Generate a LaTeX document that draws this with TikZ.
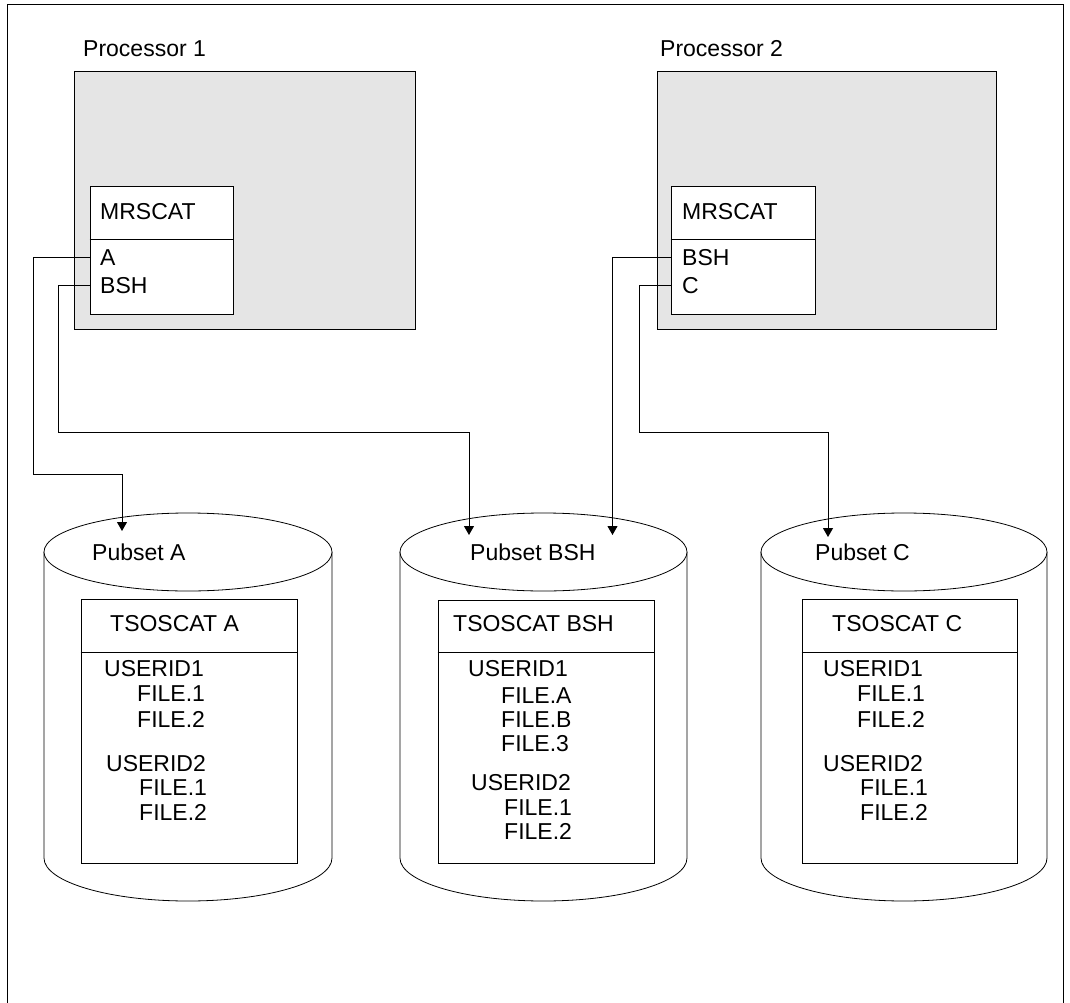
\documentclass[tikz,border=0pt]{standalone}
\usepackage{fontspec}
\setmainfont{Liberation Sans}
\usepackage{xcolor}
\definecolor{procgray}{HTML}{E5E5E5}
\usetikzlibrary{arrows.meta}
\tikzset{
  % --- TEXT ---
  txt/.style={
    anchor=west,
    inner sep=0pt,
    font=\fontsize{23}{27}\selectfont,
    text height=16.5pt,
    text depth=0pt
  },
  % --- BOXES ---
  procbox/.style={
    draw,
    fill=procgray,
    line width=1pt,
    inner sep=0pt
  },
  catbox/.style={
    draw,
    fill=white,
    line width=1pt,
    inner sep=0pt
  },
  divider/.style={
    line width=1pt
  },
  disk/.style={
    draw,
    fill=white,
    line width=0.8pt
  },
  frame/.style={
    draw,
    line width=1pt
  },
  % --- ARROWS ---
  link/.style={
    draw,
    line width=1pt,
    -{Triangle[length=9pt,width=10pt]}
  },
}
\begin{document}
\begin{tikzpicture}[x=1pt, y=-1pt]
  \useasboundingbox (0,0) rectangle (1070,1003);
  \draw[frame] (7,1004) -- (7,5) -- (1063,5) -- (1063,1004);
  % --- processor 1
  \node[txt] (p1label) at (83,48) {Processor 1};
  \node[procbox, minimum width=341pt, minimum height=257pt] (proc1) at (244.5,200.5) {};
  \node[catbox, minimum width=143pt, minimum height=127pt] (mrs1) at (161.5,250.5) {};
  \draw[divider] (mrs1.west |- 0,239) -- (mrs1.east |- 0,239);
  \node[txt] (mrs1title) at (100,211) {MRSCAT};
  \node[txt] (mrs1a) at (100,257) {A};
  \node[txt] (mrs1bsh) at (100,285) {BSH};
  % --- processor 2
  \node[txt] (p2label) at (660,48) {Processor 2};
  \node[procbox, minimum width=339pt, minimum height=257pt] (proc2) at (826.5,200.5) {};
  \node[catbox, minimum width=144pt, minimum height=127pt] (mrs2) at (743,250.5) {};
  \draw[divider] (mrs2.west |- 0,239) -- (mrs2.east |- 0,239);
  \node[txt] (mrs2title) at (682,211) {MRSCAT};
  \node[txt] (mrs2bsh) at (682,257) {BSH};
  \node[txt] (mrs2c) at (682,285) {C};
  % --- pubset A
  \draw[disk] (44,552) -- (44,858) arc[start angle=180, end angle=360, x radius=144pt, y radius=43pt] -- (332,552);
  \draw[disk] (188,552) ellipse[x radius=144pt, y radius=39pt];
  \node[txt] (pubA) at (92,552) {Pubset A};
  \node[catbox, minimum width=216pt, minimum height=264pt] (catA) at (189,731) {};
  \draw[divider] (catA.west |- 0,652) -- (catA.east |- 0,652);
  \node[txt] (catAtitle) at (110,623) {TSOSCAT A};
  \node[txt] (a1) at (104,668) {USERID1};
  \node[txt] (a2) at (137,693) {FILE.1};
  \node[txt] (a3) at (137,719) {FILE.2};
  \node[txt] (a4) at (106,763) {USERID2};
  \node[txt] (a5) at (139,787) {FILE.1};
  \node[txt] (a6) at (139,812) {FILE.2};
  % --- pubset BSH
  \draw[disk] (400,552) -- (400,858) arc[start angle=180, end angle=360, x radius=143.5pt, y radius=43pt] -- (687,552);
  \draw[disk] (543.5,552) ellipse[x radius=143.5pt, y radius=39pt];
  \node[txt] (pubBSH) at (470,552) {Pubset BSH};
  \node[catbox, minimum width=216pt, minimum height=263pt] (catB) at (546,731.5) {};
  \draw[divider] (catB.west |- 0,652) -- (catB.east |- 0,652);
  \node[txt] (catBtitle) at (453,623) {TSOSCAT BSH};
  \node[txt] (b1) at (468,668) {USERID1};
  \node[txt] (b2) at (501,695) {FILE.A};
  \node[txt] (b3) at (501,719) {FILE.B};
  \node[txt] (b4) at (501,743) {FILE.3};
  \node[txt] (b5) at (471,782) {USERID2};
  \node[txt] (b6) at (504,807) {FILE.1};
  \node[txt] (b7) at (504,831) {FILE.2};
  % --- pubset C
  \draw[disk] (761,552) -- (761,858) arc[start angle=180, end angle=360, x radius=143pt, y radius=43pt] -- (1047,552);
  \draw[disk] (904,552) ellipse[x radius=143pt, y radius=39pt];
  \node[txt] (pubC) at (815,552) {Pubset C};
  \node[catbox, minimum width=215pt, minimum height=264pt] (catC) at (909.5,731) {};
  \draw[divider] (catC.west |- 0,652) -- (catC.east |- 0,652);
  \node[txt] (catCtitle) at (832,623) {TSOSCAT C};
  \node[txt] (c1) at (823,668) {USERID1};
  \node[txt] (c2) at (857,693) {FILE.1};
  \node[txt] (c3) at (857,719) {FILE.2};
  \node[txt] (c4) at (823,763) {USERID2};
  \node[txt] (c5) at (860,787) {FILE.1};
  \node[txt] (c6) at (860,812) {FILE.2};
  % --- connectors
  \coordinate (tipA) at (122,531);
  \coordinate (tipB1) at (469,535);
  \coordinate (tipB2) at (612.5,535);
  \coordinate (tipC) at (828,537);
  \draw[link] (mrs1.west |- mrs1a) -| (33,474) -| (tipA);
  \draw[link] (mrs1.west |- mrs1bsh) -| (58,432) -| (tipB1);
  \draw[link] (mrs2.west |- mrs2bsh) -| (tipB2);
  \draw[link] (mrs2.west |- mrs2c) -| (639,432) -| (tipC);
\end{tikzpicture}
\end{document}
